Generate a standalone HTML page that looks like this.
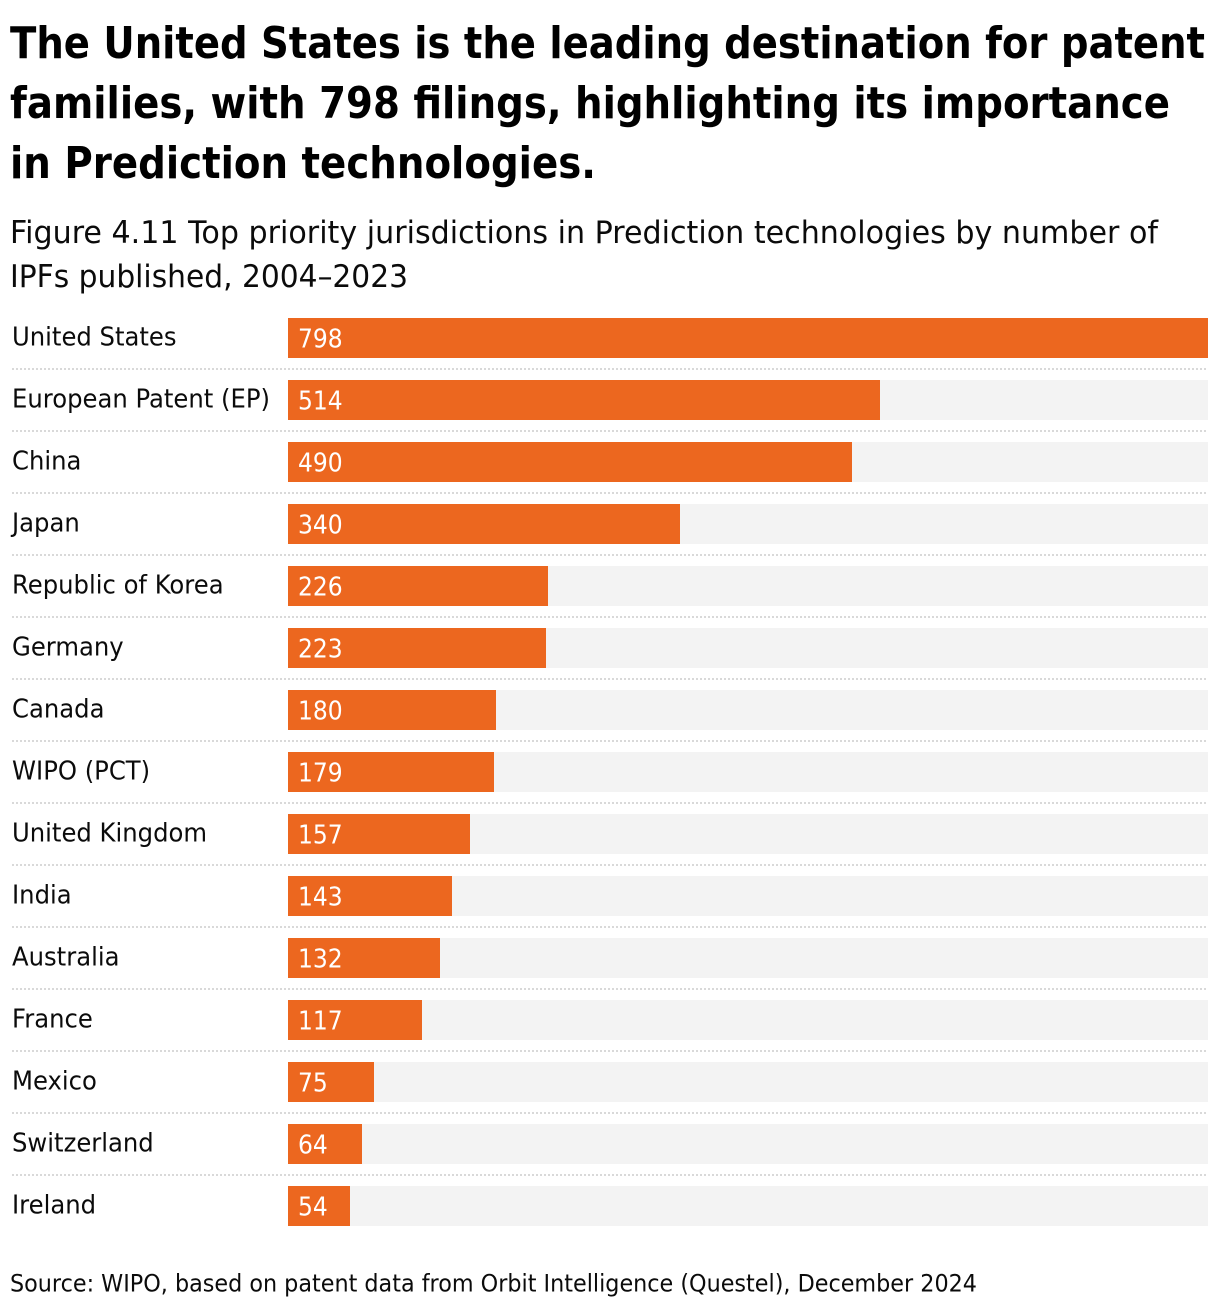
<!DOCTYPE html>
<html lang="en">
<head>
<meta charset="utf-8">
<title>Top priority jurisdictions in Prediction technologies</title>
<style>
  html, body { margin: 0; padding: 0; background: #fff; }
  svg { display: block; }
  text { font-family: "DejaVu Sans", "Liberation Sans", sans-serif; fill: #0b0b0b; }
  .headline { font-size: 44px; font-weight: 700; fill: #000; }
  .subtitle { font-size: 31px; }
  .source { font-size: 24px; }
  .label { font-size: 26px; }
  .value { font-size: 26px; fill: #fff; }
</style>
</head>
<body>
<svg id="chart" xmlns="http://www.w3.org/2000/svg" width="1220" height="1310" viewBox="0 0 1220 1310">
  <text class="headline" x="10" y="58" textLength="1195" lengthAdjust="spacingAndGlyphs">The United States is the leading destination for patent</text>
  <text class="headline" x="10" y="118" textLength="1160" lengthAdjust="spacingAndGlyphs">families, with 798 filings, highlighting its importance</text>
  <text class="headline" x="10" y="178" textLength="586" lengthAdjust="spacingAndGlyphs">in Prediction technologies.</text>
  <text class="subtitle" x="10" y="243" textLength="1148" lengthAdjust="spacingAndGlyphs">Figure 4.11 Top priority jurisdictions in Prediction technologies by number of</text>
  <text class="subtitle" x="10" y="287" textLength="398" lengthAdjust="spacingAndGlyphs">IPFs published, 2004–2023</text>
  <g id="rows"></g>
  <text class="source" x="10" y="1291.5" textLength="967" lengthAdjust="spacingAndGlyphs">Source: WIPO, based on patent data from Orbit Intelligence (Questel), December 2024</text>
</svg>
<script>
const categories = ["United States", "European Patent (EP)", "China", "Japan", "Republic of Korea", "Germany", "Canada", "WIPO (PCT)", "United Kingdom", "India", "Australia", "France", "Mexico", "Switzerland", "Ireland"];
const filings = [798, 514, 490, 340, 226, 223, 180, 179, 157, 143, 132, 117, 75, 64, 54];

const NS = 'http://www.w3.org/2000/svg';
const plotLeft = 288, plotRight = 1208, firstRowTop = 318, rowStep = 62, barHeight = 40;
const labelLeft = 12, labelSquash = 0.935, valueSquash = 0.9;
const maxValue = Math.max(...filings);

// Bar widths snap to a 2px grid, as in the reference.
function xScale(v) { return Math.round((plotRight - plotLeft) * v / maxValue / 2) * 2; }
function yScale(i) { return firstRowTop + rowStep * i; }

const rows = document.getElementById('rows');

function make(tag, attrs, text) {
  const el = document.createElementNS(NS, tag);
  for (const k in attrs) el.setAttribute(k, attrs[k]);
  if (text !== undefined) el.textContent = text;
  return el;
}

categories.forEach((name, i) => {
  const y = yScale(i);

  const label = make('text', { class: 'label', transform: `translate(${labelLeft},${y + 27.5}) scale(${labelSquash},1)` }, name);
  
  
  rows.appendChild(label);

  const track = make('rect', { x: plotLeft, y: y, width: plotRight - plotLeft, height: barHeight, fill: '#f3f3f3' });
  
  
  rows.appendChild(track);

  const bar = make('rect', { x: plotLeft, y: y, width: xScale(filings[i]), height: barHeight, fill: '#ec671f' });
  
  
  rows.appendChild(bar);

  const value = make('text', { class: 'value', transform: `translate(${plotLeft + 10},${y + 29.5}) scale(${valueSquash},1)` }, filings[i]);
  
  
  rows.appendChild(value);

  if (i < categories.length - 1) {
    const sep = make('line', { x1: labelLeft, x2: plotRight, y1: y + 51, y2: y + 51, stroke: '#d9d9d9', 'stroke-width': 2, 'stroke-dasharray': '2 2' });
    
    
    rows.appendChild(sep);
  }
});
</script>
</body>
</html>
